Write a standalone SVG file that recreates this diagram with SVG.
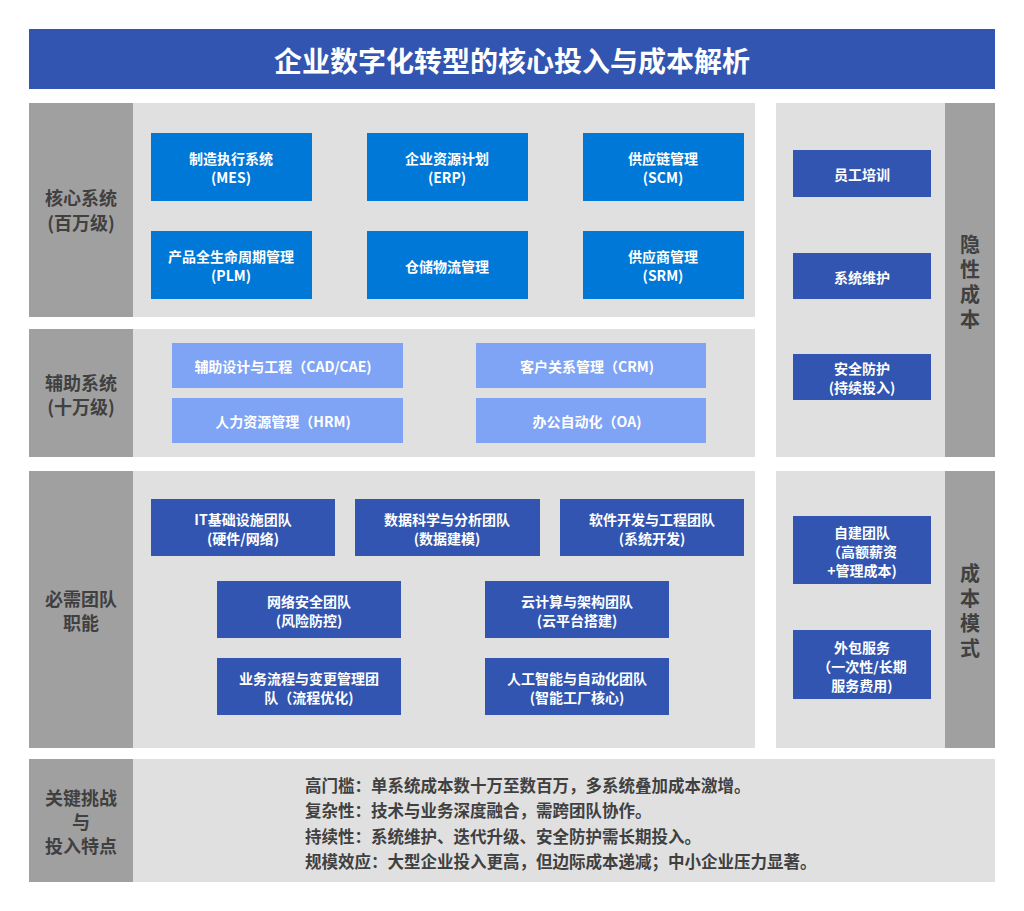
<svg xmlns="http://www.w3.org/2000/svg" width="1024" height="911" viewBox="0 0 1024 911">
<style>
text{font-family:"Noto Sans CJK SC","Microsoft YaHei",sans-serif;font-weight:bold;text-anchor:middle;dominant-baseline:central}
.pan{fill:#e0e0e0}.lab{fill:#a0a0a0}.lt{fill:#404040;font-size:18px}.vt{fill:#404040;font-size:20px;writing-mode:vertical-rl;letter-spacing:5px}
.c{fill:#0078d7}.a{fill:#7fa3f5}.d{fill:#3155b0}
.w{fill:#fff;font-size:14px}
.b{fill:#404040;font-size:16.5px;text-anchor:start}
</style>
<rect width="1024" height="911" fill="#fff"/>
<g id="title"><rect x="29" y="29" width="966" height="60" fill="#3155b0"/><text x="512" y="60" fill="#fff" font-size="28">企业数字化转型的核心投入与成本解析</text></g>
<g id="core"><rect class="pan" x="29" y="103" width="726" height="214"/><rect class="lab" x="29" y="103" width="104" height="214"/>
<text class="lt" x="81" y="197">核心系统</text><text class="lt" x="81" y="222">(百万级)</text></g>
<g id="mes"><rect class="c" x="151" y="133" width="161" height="68"/><text class="w" x="231" y="158">制造执行系统</text><text class="w" x="231" y="177">(MES)</text></g>
<g id="erp"><rect class="c" x="367" y="133" width="161" height="68"/><text class="w" x="447" y="158">企业资源计划</text><text class="w" x="447" y="177">(ERP)</text></g>
<g id="scm"><rect class="c" x="583" y="133" width="161" height="68"/><text class="w" x="663" y="158">供应链管理</text><text class="w" x="663" y="177">(SCM)</text></g>
<g id="plm"><rect class="c" x="151" y="231" width="161" height="68"/><text class="w" x="231" y="256">产品全生命周期管理</text><text class="w" x="231" y="275">(PLM)</text></g>
<g id="wms"><rect class="c" x="367" y="231" width="161" height="68"/><text class="w" x="447" y="266">仓储物流管理</text></g>
<g id="srm"><rect class="c" x="583" y="231" width="161" height="68"/><text class="w" x="663" y="256">供应商管理</text><text class="w" x="663" y="275">(SRM)</text></g>
<g id="aux"><rect class="pan" x="29" y="329" width="726" height="128"/><rect class="lab" x="29" y="329" width="104" height="128"/>
<text class="lt" x="81" y="382">辅助系统</text><text class="lt" x="81" y="406">(十万级)</text></g>
<g id="cad"><rect class="a" x="172" y="343" width="231" height="45"/><text class="w" x="283" y="366">辅助设计与工程（CAD/CAE)</text></g>
<g id="crm"><rect class="a" x="476" y="343" width="230" height="45"/><text class="w" x="587" y="366">客户关系管理（CRM)</text></g>
<g id="hrm"><rect class="a" x="172" y="398" width="231" height="45"/><text class="w" x="283" y="421">人力资源管理（HRM)</text></g>
<g id="oa"><rect class="a" x="476" y="398" width="230" height="45"/><text class="w" x="587" y="421">办公自动化（OA)</text></g>
<g id="hidden"><rect class="pan" x="776" y="103" width="219" height="354"/><rect class="lab" x="945" y="103" width="50" height="354"/>
<text class="vt" x="970" y="284">隐性成本</text></g>
<g id="train"><rect class="d" x="793" y="150" width="138" height="47"/><text class="w" x="862" y="174">员工培训</text></g>
<g id="maint"><rect class="d" x="793" y="253" width="138" height="46"/><text class="w" x="862" y="277">系统维护</text></g>
<g id="sec"><rect class="d" x="793" y="354" width="138" height="46"/><text class="w" x="862" y="368">安全防护</text><text class="w" x="862" y="387">(持续投入)</text></g>
<g id="team"><rect class="pan" x="29" y="471" width="726" height="277"/><rect class="lab" x="29" y="471" width="104" height="277"/>
<text class="lt" x="81" y="598">必需团队</text><text class="lt" x="81" y="622">职能</text></g>
<g id="it"><rect class="d" x="151" y="499" width="184" height="57"/><text class="w" x="243" y="519">IT基础设施团队</text><text class="w" x="243" y="538">(硬件/网络)</text></g>
<g id="ds"><rect class="d" x="355" y="499" width="185" height="57"/><text class="w" x="447" y="519">数据科学与分析团队</text><text class="w" x="447" y="538">(数据建模)</text></g>
<g id="sw"><rect class="d" x="560" y="499" width="184" height="57"/><text class="w" x="652" y="519">软件开发与工程团队</text><text class="w" x="652" y="538">(系统开发)</text></g>
<g id="net"><rect class="d" x="217" y="581" width="184" height="57"/><text class="w" x="309" y="601">网络安全团队</text><text class="w" x="309" y="620">(风险防控)</text></g>
<g id="cloud"><rect class="d" x="485" y="581" width="184" height="57"/><text class="w" x="577" y="601">云计算与架构团队</text><text class="w" x="577" y="620">(云平台搭建)</text></g>
<g id="bpm"><rect class="d" x="217" y="658" width="184" height="57"/><text class="w" x="309" y="678">业务流程与变更管理团</text><text class="w" x="309" y="697">队（流程优化)</text></g>
<g id="ai"><rect class="d" x="485" y="658" width="184" height="57"/><text class="w" x="577" y="678">人工智能与自动化团队</text><text class="w" x="577" y="697">(智能工厂核心)</text></g>
<g id="model"><rect class="pan" x="776" y="471" width="219" height="277"/><rect class="lab" x="945" y="471" width="50" height="277"/>
<text class="vt" x="970" y="613">成本模式</text></g>
<g id="self"><rect class="d" x="793" y="516" width="138" height="68"/><text class="w" x="862" y="532">自建团队</text><text class="w" x="862" y="551">（高额薪资</text><text class="w" x="862" y="570">+管理成本)</text></g>
<g id="out"><rect class="d" x="793" y="630" width="138" height="69"/><text class="w" x="862" y="647">外包服务</text><text class="w" x="862" y="666">（一次性/长期</text><text class="w" x="862" y="685">服务费用)</text></g>
<g id="key"><rect class="pan" x="29" y="759" width="966" height="123"/><rect class="lab" x="29" y="759" width="104" height="123"/>
<text class="lt" x="81" y="797">关键挑战</text><text class="lt" x="81" y="821">与</text><text class="lt" x="81" y="845">投入特点</text>
<text class="b" x="305" y="785">高门槛：单系统成本数十万至数百万，多系统叠加成本激增。</text>
<text class="b" x="305" y="810">复杂性：技术与业务深度融合，需跨团队协作。</text>
<text class="b" x="305" y="836">持续性：系统维护、迭代升级、安全防护需长期投入。</text>
<text class="b" x="305" y="861">规模效应：大型企业投入更高，但边际成本递减；中小企业压力显著。</text></g>
<g id="connectors"/>
</svg>
